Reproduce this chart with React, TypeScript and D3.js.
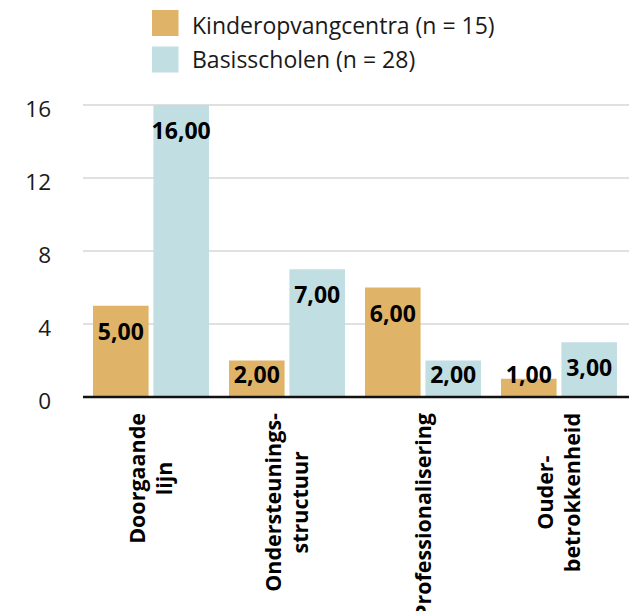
import React, { useEffect, useRef } from "react";
import * as d3 from "d3";

const categories: string[][] = [
  ["Doorgaande", "lijn"],
  ["Ondersteunings-", "structuur"],
  ["Professionalisering"],
  ["Ouder-", "betrokkenheid"],
];
const seriesNames = ["Kinderopvangcentra (n = 15)", "Basisscholen (n = 28)"];
const kinderValues = [5, 2, 6, 1];
const basisValues = [16, 7, 2, 3];
const yTicks = [0, 4, 8, 12, 16];
const colors = ["#DFB468", "#C1DEE3"];

const W = 635;
const H = 611;

export default function App() {
  const ref = useRef<SVGSVGElement | null>(null);

  useEffect(() => {
    const svg = d3.select(ref.current);
    svg.selectAll("*").remove();
    const font = "'Open Sans', sans-serif";
    const left = 83;
    const right = 627;
    const y0 = 397;
    const yTop = 105;

    const x0 = d3
      .scaleBand<number>()
      .domain(d3.range(categories.length))
      .range([left, right])
      .paddingInner(0.147)
      .paddingOuter(0.0735);
    const x1 = d3
      .scaleBand<number>()
      .domain([0, 1])
      .range([0, x0.bandwidth()])
      .paddingInner(0.08);
    const y = d3.scaleLinear().domain([0, 16]).range([y0, yTop]);

    // gridlines
    svg
      .append("g")
      .selectAll("line")
      .data(yTicks.filter((t) => t !== 0))
      .join("line")
      .attr("x1", left)
      .attr("x2", 629)
      .attr("y1", (d) => y(d))
      .attr("y2", (d) => y(d))
      .attr("stroke", "#d6d6d6")
      .attr("stroke-width", 1.5);

    // tick labels
    svg
      .append("g")
      .selectAll("text")
      .data(yTicks)
      .join("text")
      .attr("x", 51)
      .attr("y", (d) => y(d) + 12)
      .attr("text-anchor", "end")
      .attr("font-family", font)
      .attr("font-size", 22.5)
      .attr("fill", "#1a1a1a")
      .text((d) => String(d));

    const series = [kinderValues, basisValues];
    const fmt = (v: number) => v.toFixed(2).replace(".", ",");

    series.forEach((vals, si) => {
      const g = svg.append("g");
      g.selectAll("rect")
        .data(vals)
        .join("rect")
        .attr("x", (_, i) => (x0(i) as number) + (x1(si) as number))
        .attr("width", x1.bandwidth())
        .attr("y", (d) => y(d))
        .attr("height", (d) => y0 - y(d))
        .attr("fill", colors[si]);
      g.selectAll("text")
        .data(vals)
        .join("text")
        .attr("x", (_, i) => (x0(i) as number) + (x1(si) as number) + x1.bandwidth() / 2)
        .attr("y", (d) => Math.min(y(d) + 34, 383))
        .attr("text-anchor", "middle")
        .attr("font-family", font)
        .attr("font-weight", "bold")
        .attr("font-size", 23)
        .attr("fill", "#000")
        .text((d) => fmt(d));
    });

    // axis line
    svg
      .append("line")
      .attr("x1", left)
      .attr("x2", 629)
      .attr("y1", y0)
      .attr("y2", y0)
      .attr("stroke", "#111")
      .attr("stroke-width", 2.5);

    // category labels
    categories.forEach((lines, i) => {
      const cx = (x0(i) as number) + x0.bandwidth() / 2;
      const g = svg.append("g");
      const texts = lines.map((ln) =>
        g
          .append("text")
          .attr("font-family", font)
          .attr("font-weight", "bold")
          .attr("font-size", 21.5)
          .attr("fill", "#000")
          .attr("text-anchor", "middle")
          .text(ln)
      );
      const maxLen = d3.max(texts, (t) => (t.node() as SVGTextElement).getComputedTextLength()) || 0;
      const centerY = 413 + maxLen / 2;
      const lh = 27;
      const n = lines.length;
      texts.forEach((t, k) => {
        const lx = cx + (k - (n - 1) / 2) * lh + 7.5;
        t.attr("transform", `translate(${lx},${centerY}) rotate(-90)`);
      });
    });

    // legend
    const lg = svg.append("g");
    seriesNames.forEach((name, i) => {
      lg.append("rect")
        .attr("x", 152)
        .attr("y", 10 + i * 36.5)
        .attr("width", 26.5)
        .attr("height", 26)
        .attr("fill", colors[i]);
      lg.append("text")
        .attr("x", 192)
        .attr("y", 34.3 + i * 34)
        .attr("font-family", font)
        .attr("font-size", 23)
        .attr("fill", "#1a1a1a")
        .text(name);
    });
  }, []);

  return (
    <svg
      ref={ref}
      width={W}
      height={H}
      style={{ position: "absolute", left: 0, top: 0, background: "#fff" }}
    />
  );
}
